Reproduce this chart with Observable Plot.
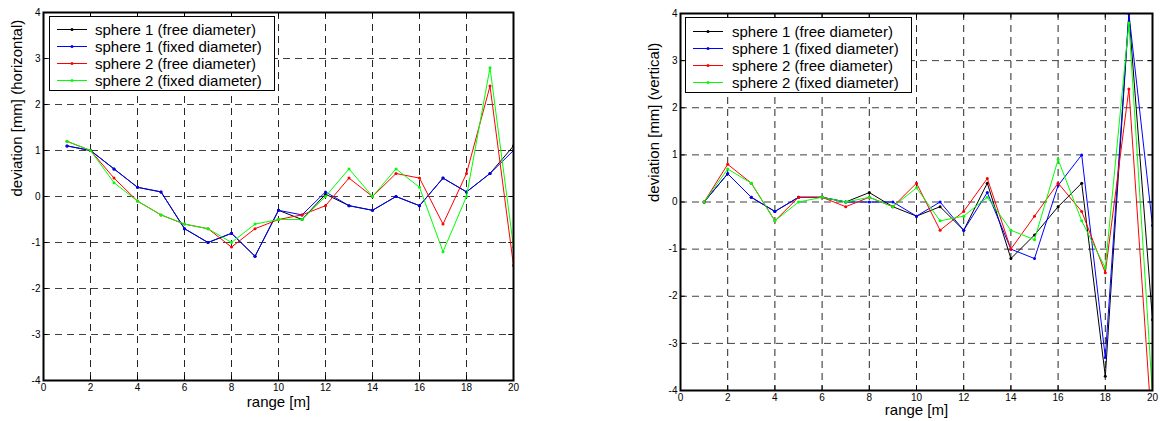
<!DOCTYPE html>
<html>
<head>
<meta charset="utf-8">
<script src="https://cdn.jsdelivr.net/npm/d3@7"></script>
<script src="https://cdn.jsdelivr.net/npm/@observablehq/plot@0.6"></script>
<style>
  html, body { margin: 0; padding: 0; background: #fff; }
  #wrap { position: relative; width: 1160px; height: 421px; overflow: hidden; font-family: "Liberation Sans", Arial, sans-serif; }
  .panel { position: absolute; top: 0; }
  .legend { position: absolute; background: #fff; border: 1px solid #000; box-sizing: border-box; font-family: "Liberation Sans", Arial, sans-serif; font-size: 15px; color: #000; }
  .legend .row { position: absolute; left: 0; height: 17px; line-height: 17px; white-space: nowrap; }
  .legend svg { position: absolute; top: 0; }
  .legend span { position: absolute; top: 0; }
</style>
</head>
<body>
<div id="wrap"></div>
<script>
// ---- data ----
const range = [1,2,3,4,5,6,7,8,9,10,11,12,13,14,15,16,17,18,19,20];
const seriesNames = ["sphere 1 (free diameter)", "sphere 1 (fixed diameter)", "sphere 2 (free diameter)", "sphere 2 (fixed diameter)"];
const seriesColors = ["#000000", "#0000ff", "#ff0000", "#00ff00"];

// horizontal deviation [mm]
const hSphere1Free  = [1.1,1.0,0.6,0.2,0.1,-0.7,-1.0,-0.8,-1.3,-0.3,-0.5,0.05,-0.2,-0.3,0.0,-0.2,0.4,0.1,0.5,1.1];
const hSphere1Fixed = [1.1,1.0,0.6,0.2,0.1,-0.7,-1.0,-0.8,-1.3,-0.3,-0.4,0.1,-0.2,-0.3,0.0,-0.2,0.4,0.1,0.5,1.0];
const hSphere2Free  = [1.2,1.0,0.4,-0.1,-0.4,-0.6,-0.7,-1.1,-0.7,-0.5,-0.4,-0.2,0.4,0.0,0.5,0.4,-0.6,0.5,2.4,-1.5];
const hSphere2Fixed = [1.2,1.0,0.3,-0.1,-0.4,-0.6,-0.7,-1.0,-0.6,-0.5,-0.5,0.0,0.6,0.0,0.6,0.2,-1.2,0.0,2.8,-1.1];

// vertical deviation [mm]
const vSphere1Free  = [0,0.6,0.1,-0.2,0.1,0.1,0.0,0.2,-0.1,-0.3,-0.1,-0.6,0.4,-1.2,-0.7,-0.1,0.4,-3.7,4.0,-2.5];
const vSphere1Fixed = [0,0.6,0.1,-0.2,0.1,0.1,0.0,0.0,0.0,-0.3,0.0,-0.6,0.2,-1.0,-1.2,0.35,1.0,-3.3,4.0,-0.5];
const vSphere2Free  = [0,0.8,0.4,-0.4,0.1,0.1,-0.1,0.1,-0.1,0.4,-0.6,-0.2,0.5,-1.0,-0.3,0.4,-0.2,-1.5,2.4,-5.0];
const vSphere2Fixed = [0,0.7,0.4,-0.4,0.0,0.1,0.0,0.1,-0.1,0.3,-0.4,-0.3,0.1,-0.6,-0.8,0.9,-0.4,-1.4,3.8,-4.1];

const xTicks = [0,2,4,6,8,10,12,14,16,18,20];
const yTicks = [-4,-3,-2,-1,0,1,2,3,4];

function toRows(seriesList) {
  const rows = [];
  seriesList.forEach((vals, i) => {
    vals.forEach((v, j) => rows.push({range: range[j], dev: v, s: i}));
  });
  return rows;
}

function makePanel(seriesList, yLabel, opts) {
  const rows = toRows(seriesList);
  const xInner = xTicks.slice(1, -1);
  const yInner = yTicks.slice(1, -1);
  const marks = [
    Plot.ruleX(xInner, {stroke: "#000", strokeWidth: 1, strokeDasharray: "7,5", strokeOpacity: 0.85}),
    Plot.ruleY(yInner, {stroke: "#000", strokeWidth: 1, strokeDasharray: "7,5", strokeOpacity: 0.75}),
    // inward ticks
    Plot.ruleX(xTicks, {x: d => d, y1: -4, y2: -3.9, stroke: "#000"}),
    Plot.ruleX(xTicks, {x: d => d, y1: 4, y2: 3.9, stroke: "#000"}),
    Plot.ruleY(yTicks, {y: d => d, x1: 0, x2: 0.2, stroke: "#000"}),
    Plot.ruleY(yTicks, {y: d => d, x1: 20, x2: 19.8, stroke: "#000"})
  ];
  seriesList.forEach((vals, i) => {
    const data = rows.filter(r => r.s === i);
    marks.push(Plot.line(data, {x: "range", y: "dev", stroke: seriesColors[i], strokeWidth: 1, clip: true}));
    marks.push(Plot.dot(data, {x: "range", y: "dev", fill: seriesColors[i], r: 1.5, stroke: "none", clip: true}));
  });
  marks.push(Plot.frame({stroke: "#000", strokeWidth: 2}));
  marks.push(Plot.text([yLabel], {frameAnchor: "left", rotate: -90, dx: opts.yLabelDx, fontSize: 15, fill: "#000"}));
  marks.push(Plot.text(["range [m]"], {frameAnchor: "bottom", dy: opts.xLabelDy, fontSize: 15, fill: "#000"}));
  return Plot.plot({
    width: opts.width,
    height: 421,
    marginLeft: opts.ml,
    marginRight: opts.mr,
    marginTop: opts.mt,
    marginBottom: opts.mb,
    style: {fontFamily: "Liberation Sans, Arial, sans-serif", fontSize: "10px", background: "transparent", color: "#000", overflow: "visible"},
    x: {domain: [0, 20], ticks: xTicks, tickSize: 0, tickPadding: 3, tickFormat: d => String(d), label: null},
    y: {domain: [-4, 4], ticks: yTicks, tickSize: 0, tickPadding: 3, tickFormat: d => String(d), label: null},
    marks
  });
}

function makeLegend(left, top, width, height, rowTops, lineX0, lineX1, textX) {
  const lg = document.createElement("div");
  lg.className = "legend";
  lg.style.left = left + "px";
  lg.style.top = top + "px";
  lg.style.width = width + "px";
  lg.style.height = height + "px";
  seriesNames.forEach((name, i) => {
    const row = document.createElement("div");
    row.className = "row";
    row.style.top = rowTops[i] + "px";
    row.style.width = (width - 2) + "px";
    const ns = "http://www.w3.org/2000/svg";
    const svg = document.createElementNS(ns, "svg");
    svg.setAttribute("width", lineX1 + 4);
    svg.setAttribute("height", 17);
    const ln = document.createElementNS(ns, "line");
    ln.setAttribute("x1", lineX0); ln.setAttribute("x2", lineX1);
    ln.setAttribute("y1", 8.5); ln.setAttribute("y2", 8.5);
    ln.setAttribute("stroke", seriesColors[i]); ln.setAttribute("stroke-width", 1);
    svg.appendChild(ln);
    const c = document.createElementNS(ns, "circle");
    c.setAttribute("cx", (lineX0 + lineX1) / 2); c.setAttribute("cy", 8.5); c.setAttribute("r", 1.5);
    c.setAttribute("fill", seriesColors[i]);
    svg.appendChild(c);
    row.appendChild(svg);
    const sp = document.createElement("span");
    sp.style.left = textX + "px";
    sp.textContent = name;
    row.appendChild(sp);
    lg.appendChild(row);
  });
  return lg;
}

const wrap = document.getElementById("wrap");

const left = makePanel([hSphere1Free, hSphere1Fixed, hSphere2Free, hSphere2Fixed], "deviation [mm] (horizontal)",
  {width: 540, ml: 43, mr: 27, mt: 12, mb: 41, yLabelDx: -26, xLabelDy: 26});
const leftDiv = document.createElement("div");
leftDiv.className = "panel"; leftDiv.style.left = "0px";
leftDiv.appendChild(left);
wrap.appendChild(leftDiv);

const right = makePanel([vSphere1Free, vSphere1Fixed, vSphere2Free, vSphere2Fixed], "deviation [mm] (vertical)",
  {width: 520, ml: 40, mr: 8, mt: 13, mb: 31, yLabelDx: -26, xLabelDy: 24});
const rightDiv = document.createElement("div");
rightDiv.className = "panel"; rightDiv.style.left = "640px";
rightDiv.appendChild(right);
wrap.appendChild(rightDiv);

wrap.appendChild(makeLegend(49, 16, 226, 75, [4, 21, 38, 55], 7, 37, 45));
wrap.appendChild(makeLegend(685, 17, 227, 76, [5, 22, 39, 56], 7, 37, 46));
</script>
</body>
</html>
